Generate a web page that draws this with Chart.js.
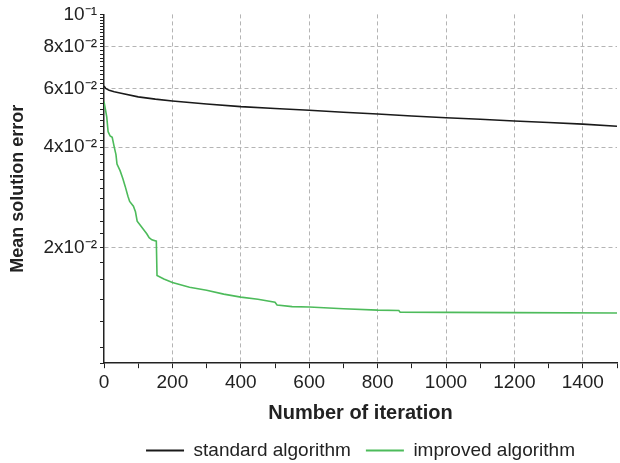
<!DOCTYPE html>
<html lang="en">
<head>
    <meta charset="UTF-8">
    <title>Mean solution error</title>
    <script src="https://cdn.jsdelivr.net/npm/chart.js"></script>
    <style>
        html, body {
            margin: 0;
            padding: 0;
            background: #ffffff;
        }
        #wrap {
            width: 620px;
            height: 463px;
        }
    </style>
</head>
<body>

<div id="wrap">
    <canvas id="errChart" width="620" height="463"></canvas>
</div>

<script>
    // standard algorithm (black)
    const stdIter = [0, 5, 15, 30, 50, 100, 150, 200, 300, 400, 500, 600, 700, 800, 900, 1000, 1100, 1200, 1300, 1400, 1500];
    const stdErr = [0.0610, 0.0600, 0.0592, 0.0586, 0.0580, 0.0566, 0.0557, 0.0550, 0.0539, 0.0529, 0.0522, 0.0516, 0.0509, 0.0503, 0.0496, 0.0490, 0.0485, 0.0479, 0.0474, 0.0469, 0.0462];

    // improved algorithm (green)
    const impIter = [0, 4, 8, 12, 18, 24, 30, 35, 38, 47, 55, 62, 70, 75, 86, 92, 97, 105, 115, 125, 132, 140, 153, 155, 175, 200, 250, 300, 350, 400, 450, 500, 506, 550, 600, 700, 800, 862, 866, 1000, 1200, 1500];
    const impErr = [0.0548, 0.0520, 0.0493, 0.0445, 0.0432, 0.0428, 0.0400, 0.0380, 0.0356, 0.0340, 0.0322, 0.0305, 0.0285, 0.0275, 0.0266, 0.0256, 0.0240, 0.0234, 0.0227, 0.0220, 0.0214, 0.0211, 0.0209, 0.0165, 0.0161, 0.0157, 0.0152, 0.0149, 0.0145, 0.0142, 0.0140, 0.0137, 0.01345, 0.0133, 0.01326, 0.0131, 0.01298, 0.01295, 0.0128, 0.01278, 0.01276, 0.01273];

    // y axis ticks
    const yMajor = [0.02, 0.04, 0.06, 0.08, 0.1];
    const yMajorLabels = ['2x10⁻²', '4x10⁻²', '6x10⁻²', '8x10⁻²', '10⁻¹'];
    const yMin = 0.009;
    const yMax = 0.1;

    const FONT = '"Liberation Sans", Arial, Helvetica, sans-serif';

    function toPoints(xs, ys) {
        return xs.map((x, i) => ({ x: x, y: ys[i] }));
    }

    // minor tick marks every 0.002 between the labelled ones
    const yMinor = [];
    for (let k = 5; k <= 49; k++) {
        const v = Math.round(k * 0.002 * 1000) / 1000;
        if (yMajor.indexOf(v) < 0) yMinor.push(v);
    }

    function isMajorY(v) {
        return yMajor.some(m => Math.abs(m - v) < 1e-9);
    }

    const ctx = document.getElementById('errChart').getContext('2d');

    const errChart = new Chart(ctx, {
        type: 'line',
        data: {
            datasets: [{
                label: 'standard algorithm',
                data: toPoints(stdIter, stdErr),
                borderColor: '#1a1a1a',
                backgroundColor: '#1a1a1a',
                borderWidth: 1.6,
                pointRadius: 0,
                tension: 0
            }, {
                label: 'improved algorithm',
                data: toPoints(impIter, impErr),
                borderColor: '#4dbb5b',
                backgroundColor: '#4dbb5b',
                borderWidth: 1.6,
                pointRadius: 0,
                tension: 0
            }]
        },
        options: {
            responsive: false,
            animation: false,
            layout: {
                // negative bottom lets the legend sit a little lower
                padding: { top: 8, right: 1, bottom: -7, left: 0 }
            },
            plugins: {
                legend: {
                    position: 'bottom',
                    fullSize: false,
                    labels: {
                        color: '#222',
                        font: { family: FONT, size: 19 },
                        boxWidth: 38,
                        boxHeight: 2,
                        padding: 15,
                        generateLabels: (chart) =>
                            Chart.defaults.plugins.legend.labels.generateLabels(chart)
                                .map(l => Object.assign(l, { lineWidth: 0 }))
                    }
                },
                tooltip: { enabled: false }
            },
            scales: {
                x: {
                    type: 'linear',
                    min: 0,
                    max: 1500,
                    title: {
                        display: true,
                        text: 'Number of iteration',
                        color: '#222',
                        font: { family: FONT, size: 20, weight: 'bold' },
                        padding: { top: 4, bottom: 1 }
                    },
                    ticks: {
                        stepSize: 100,
                        autoSkip: false,
                        maxRotation: 0,
                        color: '#222',
                        padding: 3,
                        font: { family: FONT, size: 19 },
                        callback: (v) => (v % 200 === 0 && v < 1500) ? String(v) : ''
                    },
                    grid: {
                        color: (c) => (c.tick && c.tick.value % 200 === 0 && c.tick.value > 0 && c.tick.value < 1500) ? '#b4b4b4' : 'rgba(0,0,0,0)',
                        tickColor: '#222',
                        tickLength: 5,
                        lineWidth: 1
                    },
                    border: {
                        color: '#222',
                        width: 1.5,
                        dash: [4, 3]
                    }
                },
                y: {
                    type: 'logarithmic',
                    min: yMin,
                    max: yMax,
                    afterBuildTicks: (scale) => {
                        const vals = yMajor.concat(yMinor, [yMin]).sort((a, b) => a - b);
                        scale.ticks = vals.map(v => ({ value: v, major: isMajorY(v) }));
                    },
                    afterFit: (scale) => {
                        scale.width = 104;
                    },
                    title: {
                        display: true,
                        text: 'Mean solution error',
                        color: '#222',
                        font: { family: FONT, size: 18, weight: 'bold' },
                        padding: { top: 7, bottom: 0 }
                    },
                    ticks: {
                        autoSkip: false,
                        color: '#222',
                        padding: 3,
                        font: { family: FONT, size: 19 },
                        callback: (v) => {
                            const i = yMajor.findIndex(m => Math.abs(m - v) < 1e-9);
                            return i >= 0 ? yMajorLabels[i] : '';
                        }
                    },
                    grid: {
                        color: (c) => (c.tick && isMajorY(c.tick.value) && c.tick.value < 0.099) ? '#b4b4b4' : 'rgba(0,0,0,0)',
                        tickColor: '#222',
                        tickLength: 4,
                        lineWidth: 1
                    },
                    border: {
                        color: '#222',
                        width: 1.5,
                        dash: [4, 3]
                    }
                }
            }
        }
    });
</script>

</body>
</html>
